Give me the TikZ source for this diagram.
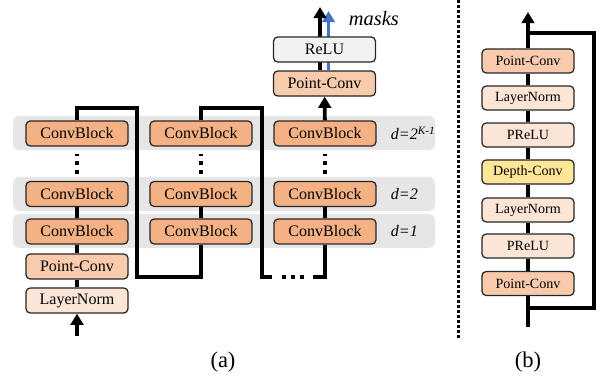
\documentclass[tikz,border=0pt]{standalone}
\usepackage{fontspec}
\setmainfont{Liberation Serif}
\usetikzlibrary{arrows.meta, positioning, calc}
\definecolor{convorange}{HTML}{F4B183}
\definecolor{pointorange}{HTML}{F8CBAD}
\definecolor{paleorange}{HTML}{FBE5D6}
\definecolor{depthyellow}{HTML}{FFE699}
\definecolor{relugray}{HTML}{F2F2F2}
\definecolor{bandgray}{HTML}{E7E6E6}
\definecolor{maskblue}{HTML}{4472C4}

\begin{document}
\begin{tikzpicture}[
  x=0.025cm, y=-0.025cm,
  font=\fontsize{11.4}{13}\selectfont,
  blocco/.style={draw=black!85, line width=0.9pt, rounded corners=3pt, inner sep=0pt,
                 minimum width=2.55cm, minimum height=0.625cm},
  convblock/.style={blocco, fill=convorange},
  smallblock/.style={blocco, minimum width=2.3cm, minimum height=0.6cm,
                     font=\fontsize{10}{12}\selectfont},
  band/.style={fill=bandgray, rounded corners=4pt},
  wire/.style={line width=2.7pt},
  arrowwire/.style={wire, -{Triangle[width=9pt, length=8pt]}},
  dots/.style={line width=0.1cm, dash pattern=on 0.1cm off 0.125cm},
  dlabel/.style={anchor=west, font=\itshape\fontsize{11.4}{13}\selectfont},
  caption/.style={font=\fontsize{16}{18}\selectfont}
]
\useasboundingbox (0,0) rectangle (600,381);

% ---- (a): bande delle dilatazioni -------------------------------------
\foreach \yt/\yb in {116/150, 177/211, 214/248} {
  \fill[band] (13,\yt) rectangle (435,\yb);
}

% ---- (a): pile di ConvBlock --------------------------------------------
\foreach \c/\x in {1/77, 2/201, 3/325} {
  \node[convblock] (top\c) at (\x,133.5) {ConvBlock};
  \node[convblock] (mid\c) at (\x,194) {ConvBlock};
  \node[convblock] (bot\c) at (\x,231.5) {ConvBlock};
  \draw[wire] (bot\c) -- (mid\c);
  \draw[dots] ($(mid\c.north)+(0,-7)$) -- ($(top\c.south)+(0,7)$);
}
\node[dlabel] (dtop) at (386,133.5) {d=2\textsuperscript{K-1}};
\node[dlabel] (dmid) at (386,194) {d=2};
\node[dlabel] (dbot) at (386,231.5) {d=1};

% ---- (a): ingresso -------------------------------------------------------
\node[blocco, fill=paleorange] (norm1) at (77,300.5) {LayerNorm};
\node[blocco, fill=pointorange] (point1) at (77,266.5) {Point-Conv};
\coordinate (input) at (77,336);
\draw[arrowwire] (input) -- (norm1);
\draw[wire] (norm1) -- (point1);
\draw[wire] (point1) -- (bot1);

% ---- (a): collegamenti tra le pile --------------------------------------
\coordinate (gapleft) at (272,277);
\coordinate (gapright) at (313,277);
\draw[wire] (top1.north) |- (137,108) -- (137,277) -| (bot2.south);
\draw[wire] (top2.north) |- (262,108) -- (262,277) -- (gapleft);
\draw[dots] ($(gapleft)+(10,0)$) -- ($(gapright)+(-9,0)$);
\draw[wire] (gapright) -| (bot3.south);

% ---- (a): uscita ---------------------------------------------------------
\node[blocco, fill=pointorange] (point3) at (324.5,83.5) {Point-Conv};
\draw[arrowwire] (top3) -- (point3);
\coordinate (outblack) at (320,7);
\coordinate (outblue) at (328.5,11);
\draw[arrowwire, draw=maskblue] ($(point3.north)+(4,0)$) -- (outblue);
\draw[arrowwire] ($(point3.north)+(-4.5,0)$) -- (outblack);
\node[blocco, fill=relugray] (relu) at (324.5,49.5) {ReLU};
\node[anchor=west, font=\itshape\fontsize{14.5}{16}\selectfont] (masks) at (344,19) {masks};

% ---- separatore ----------------------------------------------------------
\draw[line width=0.075cm, dash pattern=on 0.075cm off 0.05cm] (458,0) -- (458,338);

% ---- (b): ConvBlock ------------------------------------------------------
\foreach \n/\y/\tinta/\testo in {1/283.5/pointorange/Point-Conv, 2/246/paleorange/PReLU,
    3/210/paleorange/LayerNorm, 4/172/depthyellow/Depth-Conv, 5/135/paleorange/PReLU,
    6/98/paleorange/LayerNorm, 7/61/pointorange/Point-Conv} {
  \node[smallblock, fill=\tinta] (b\n) at (528,\y) {\testo};
}
\coordinate (bin) at (528,327);
\coordinate (bout) at (528,12);
\coordinate (skipin) at (528,308);
\coordinate (skipout) at (528,33);
\draw[wire] (bin) -- (b1);
\foreach \a/\b in {1/2, 2/3, 3/4, 4/5, 5/6, 6/7} {
  \draw[wire] (b\a) -- (b\b);
}
\draw[arrowwire] (b7) -- (bout);
\draw[wire] (skipin) -| (594,33) -- (skipout);

% ---- didascalie ----------------------------------------------------------
\node[caption] (capa) at (223,362) {(a)};
\node[caption] (capb) at (528,362) {(b)};

\end{tikzpicture}
\end{document}
